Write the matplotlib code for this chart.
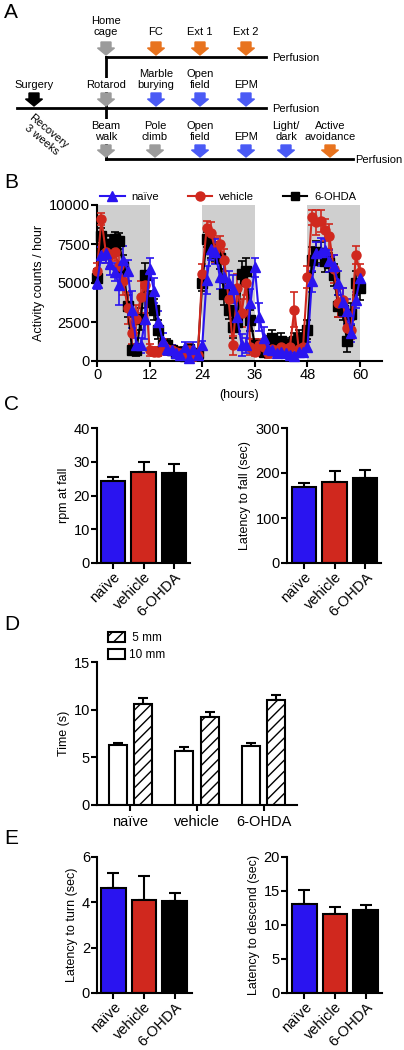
import matplotlib
matplotlib.use("Agg")

import matplotlib.pyplot as plt
import numpy as np
from matplotlib.lines import Line2D
from matplotlib.patches import Patch, Polygon

plt.rcParams["font.family"] = ["Liberation Sans", "DejaVu Sans"]
plt.rcParams["hatch.linewidth"] = 1.0

# ============================================================
# Data
# ============================================================

groups = ["naïve", "vehicle", "6-OHDA"]

# B: home cage activity, hourly means and SEM
hours = list(range(61))

naive_mean = [
    5000, 6800, 6900, 6200, 5700, 4900, 6500, 5800, 3300, 1000, 1000, 2700,
    5900, 4500, 2500, 1300, 800, 700, 500, 400, 900, 200, 800, 400,
    1000, 5200, 7200, 7000, 5400, 5400, 5000, 4600, 2800, 1000, 1000, 3700,
    6000, 2800, 1500, 800, 700, 500, 600, 500, 400, 300, 600, 600,
    900, 5100, 6900, 7000, 7100, 6400, 6100, 5000, 3800, 3200, 1800, 3900, 5300,
]
naive_sem = [
    400, 500, 600, 700, 600, 1300, 900, 700, 1200, 500, 500, 1300,
    700, 800, 700, 500, 400, 300, 300, 300, 300, 300, 400, 300,
    300, 900, 700, 800, 800, 1000, 800, 900, 900, 700, 500, 900,
    600, 900, 700, 400, 400, 300, 300, 300, 300, 300, 300, 300,
    300, 700, 700, 900, 700, 700, 700, 800, 900, 800, 600, 500, 500,
]

vehicle_mean = [
    5800, 9100, 7000, 6800, 7000, 6100, 5100, 3400, 1800, 2700, 4100, 4900,
    700, 600, 600, 1000, 800, 700, 600, 500, 400, 700, 300, 400,
    5600, 8500, 8200, 7100, 7500, 6500, 4000, 1000, 4700, 3100, 5000, 900,
    600, 1000, 900, 500, 800, 700, 900, 800, 900, 3300, 800, 900,
    5400, 9200, 8900, 9000, 8400, 8000, 5900, 3700, 3900, 2100, 2000, 6800, 5700,
]
vehicle_sem = [
    500, 400, 700, 800, 600, 700, 900, 1000, 700, 900, 1000, 900,
    400, 300, 300, 400, 400, 300, 300, 300, 300, 400, 300, 300,
    600, 500, 700, 800, 500, 700, 900, 600, 900, 900, 800, 500,
    300, 400, 400, 300, 400, 300, 400, 300, 400, 1100, 400, 400,
    700, 500, 800, 700, 700, 800, 900, 900, 800, 800, 600, 600, 500,
]

ohda_mean = [
    5300, 8000, 7500, 7500, 7800, 7700, 6000, 3500, 700, 700, 2700, 5500,
    3800, 3300, 2000, 1000, 1000, 700, 500, 600, 300, 800, 400, 500,
    5000, 7800, 7200, 7000, 6600, 4300, 3300, 2200, 2500, 5600, 5800, 2600,
    1000, 800, 600, 1200, 1500, 1000, 1300, 900, 1100, 1300, 1500, 1300,
    2000, 6500, 7000, 6900, 6400, 6300, 5500, 3500, 3300, 1300, 3000, 5000, 4700,
]
ohda_sem = [
    600, 500, 500, 600, 500, 500, 800, 700, 300, 400, 700, 800,
    700, 700, 600, 400, 400, 300, 300, 300, 300, 300, 300, 300,
    500, 500, 600, 600, 700, 700, 600, 700, 600, 800, 800, 700,
    400, 300, 300, 400, 500, 400, 500, 400, 400, 500, 500, 500,
    600, 800, 700, 700, 700, 600, 700, 700, 700, 700, 700, 800, 800,
]

dark_phases = [(0, 12), (24, 36), (48, 60)]

# C: rotarod
rpm_mean = [24.2, 27.0, 26.8]
rpm_sem = [1.2, 2.8, 2.5]
fall_mean = [168, 180, 188]
fall_sem = [10, 25, 18]

# D: beam walk
beam_10_mean = [6.3, 5.7, 6.2]
beam_10_sem = [0.2, 0.4, 0.3]
beam_5_mean = [10.6, 9.2, 11.0]
beam_5_sem = [0.6, 0.6, 0.5]

# E: pole climb
turn_mean = [4.65, 4.1, 4.05]
turn_sem = [0.65, 1.05, 0.35]
descend_mean = [13.1, 11.6, 12.2]
descend_sem = [2.1, 1.0, 0.7]

# ============================================================
# Style
# ============================================================

W, H = 404, 1050
BLUE = "#2a14f0"
RED = "#d0281e"
BLACK = "#000000"
ORANGE = "#e8731e"
ARROW_BLUE = "#4a5af5"
GREY = "#9b9b9b"
group_colors = [BLUE, RED, BLACK]


def px_axes(fig, left, right, top, bottom):
    return fig.add_axes([left / W, 1 - bottom / H, (right - left) / W, (bottom - top) / H])


def style_axes(ax):
    for side in ["top", "right"]:
        ax.spines[side].set_visible(False)
    for side in ["left", "bottom"]:
        ax.spines[side].set_linewidth(1.5)
    ax.tick_params(width=1.5, length=4, labelsize=10.5, pad=1)


def bar_panel(ax, means, sems, ylim, yticks, ylabel, xlim):
    x = np.arange(len(groups))
    ax.bar(x, means, width=0.8, color=group_colors, edgecolor="black", linewidth=1.5, zorder=2)
    ax.errorbar(x, means, yerr=[[0] * len(sems), sems], fmt="none", ecolor="black",
                elinewidth=1.5, capsize=4, capthick=1.5, zorder=1)
    ax.set_xlim(*xlim)
    ax.set_ylim(*ylim)
    ax.set_yticks(yticks)
    ax.set_xticks(x)
    ax.set_xticklabels(groups, rotation=45, ha="right", rotation_mode="anchor", fontsize=11)
    ax.set_ylabel(ylabel, fontsize=9, labelpad=3)
    style_axes(ax)


def down_arrow(ax, x, y_top, y_tip, color):
    y_mid = y_tip - 7
    pts = [(x - 5, y_top), (x + 5, y_top), (x + 5, y_mid), (x + 8.5, y_mid),
           (x, y_tip), (x - 8.5, y_mid), (x - 5, y_mid)]
    ax.add_patch(Polygon(pts, closed=True, color=color, zorder=3))


fig = plt.figure(figsize=(W / 100, H / 100), dpi=100)

# overlay axes in pixel coordinates for panel A and panel letters
ax0 = fig.add_axes([0, 0, 1, 1])
ax0.set_xlim(0, W)
ax0.set_ylim(H, 0)
ax0.axis("off")

for letter, (lx, ly) in zip("ABCDE", [(4, 13), (4, 182), (4, 405), (4, 624), (4, 838)]):
    ax0.text(lx, ly, letter, fontsize=15, va="center", ha="left")

# ============================================================
# A: timeline schematic
# ============================================================

lw = 2.0
ax0.plot([106, 266], [57, 57], color="black", lw=lw, zorder=1)
ax0.plot([17, 266], [108, 108], color="black", lw=lw, zorder=1)
ax0.plot([106, 353], [159, 159], color="black", lw=lw, zorder=1)
ax0.plot([106, 106], [57, 159], color="black", lw=lw, zorder=1)

fs_a = 8
for yy in [57, 108]:
    ax0.text(272, yy + 1, "Perfusion", fontsize=fs_a, va="center", ha="left")
ax0.text(355, 160, "Perfusion", fontsize=fs_a, va="center", ha="left")

top_row = [("Home\ncage", 106, GREY), ("FC", 156, ORANGE), ("Ext 1", 200, ORANGE), ("Ext 2", 246, ORANGE)]
mid_row = [("Surgery", 34, BLACK), ("Rotarod", 106, GREY), ("Marble\nburying", 156, ARROW_BLUE),
           ("Open\nfield", 200, ARROW_BLUE), ("EPM", 246, ARROW_BLUE)]
bot_row = [("Beam\nwalk", 106, GREY), ("Pole\nclimb", 155, GREY), ("Open\nfield", 200, ARROW_BLUE),
           ("EPM", 246, ARROW_BLUE), ("Light/\ndark", 286, ARROW_BLUE), ("Active\navoidance", 330, ORANGE)]

for row, (y_top, y_tip, y_text) in zip([top_row, mid_row, bot_row], [(42, 55, 37), (93, 106, 90), (145, 157, 142)]):
    for label, x, color in row:
        down_arrow(ax0, x, y_top, y_tip, color)
        ax0.text(x, y_text, label, fontsize=fs_a, ha="center", va="bottom", linespacing=1.1,
                 zorder=4, bbox=dict(facecolor="white", edgecolor="none", pad=1.5))

ax0.text(45, 136, "Recovery\n3 weeks", fontsize=fs_a, ha="center", va="center",
         rotation=-40, linespacing=1.1)

# ============================================================
# B: home cage activity
# ============================================================

axB = px_axes(fig, 97, 382, 205, 361)
for start, end in dark_phases:
    axB.axvspan(start, end, color="#cfcfcf", lw=0, zorder=0)

series = [
    (ohda_mean, ohda_sem, BLACK, "s", 6.5, "6-OHDA"),
    (vehicle_mean, vehicle_sem, RED, "o", 6.5, "vehicle"),
    (naive_mean, naive_sem, BLUE, "^", 6.5, "naïve"),
]
for mean, sem, color, marker, ms, name in series:
    axB.errorbar(hours, mean, yerr=sem, color=color, marker=marker, ms=ms, lw=1.5,
                 elinewidth=1.2, capsize=3, capthick=1.2, clip_on=False, zorder=3)

axB.set_xlim(0, 65)
axB.set_ylim(0, 10000)
axB.set_xticks([0, 12, 24, 36, 48, 60])
axB.set_yticks([0, 2500, 5000, 7500, 10000])
axB.set_ylabel("Activity counts / hour", fontsize=9, labelpad=3)
axB.set_xlabel("(hours)", fontsize=9, labelpad=5)
style_axes(axB)

legend_handles = [
    Line2D([], [], color=BLUE, marker="^", ms=6.5, lw=1.5, label="naïve"),
    Line2D([], [], color=RED, marker="o", ms=6.5, lw=1.5, label="vehicle"),
    Line2D([], [], color=BLACK, marker="s", ms=6, lw=1.5, label="6-OHDA"),
]
axB.legend(handles=legend_handles, loc="lower center", bbox_to_anchor=(0.46, 0.99), ncol=3,
           frameon=False, fontsize=8, handlelength=2.2, columnspacing=2.6, handletextpad=0.6,
           borderaxespad=0)

# ============================================================
# C: rotarod
# ============================================================

axC1 = px_axes(fig, 97, 190, 428, 563)
bar_panel(axC1, rpm_mean, rpm_sem, (0, 40), [0, 10, 20, 30, 40], "rpm at fall", (-0.52, 2.52))

axC2 = px_axes(fig, 287, 381, 428, 563)
bar_panel(axC2, fall_mean, fall_sem, (0, 300), [0, 100, 200, 300], "Latency to fall (sec)", (-0.56, 2.52))

# ============================================================
# D: beam walk
# ============================================================

axD = px_axes(fig, 97, 297, 662, 805)
xg = np.arange(len(groups))
axD.bar(xg - 0.19, beam_10_mean, width=0.27, color="white", edgecolor="black", linewidth=1.5, zorder=2)
axD.bar(xg + 0.19, beam_5_mean, width=0.27, color="white", edgecolor="black", linewidth=1.5,
        hatch="///", zorder=2)
axD.errorbar(xg - 0.19, beam_10_mean, yerr=[[0] * 3, beam_10_sem], fmt="none", ecolor="black",
             elinewidth=1.5, capsize=3.5, capthick=1.5, zorder=1)
axD.errorbar(xg + 0.19, beam_5_mean, yerr=[[0] * 3, beam_5_sem], fmt="none", ecolor="black",
             elinewidth=1.5, capsize=3.5, capthick=1.5, zorder=1)
axD.set_xlim(-0.5, 2.5)
axD.set_ylim(0, 15)
axD.set_yticks([0, 5, 10, 15])
axD.set_xticks(xg)
axD.set_xticklabels(groups)
axD.set_ylabel("Time (s)", fontsize=9, labelpad=3)
style_axes(axD)
axD.tick_params(axis="x", pad=3)

d_handles = [
    Patch(facecolor="white", edgecolor="black", hatch="///", linewidth=1.5, label=" 5 mm"),
    Patch(facecolor="white", edgecolor="black", linewidth=1.5, label="10 mm"),
]
axD.legend(handles=d_handles, loc="upper left", bbox_to_anchor=(108 / W, 1 - 632 / H),
           bbox_transform=fig.transFigure, frameon=False, fontsize=8.5, handlelength=1.4,
           handleheight=0.9, handletextpad=0.4, labelspacing=0.45, borderaxespad=0, borderpad=0)

# ============================================================
# E: pole climb
# ============================================================

axE1 = px_axes(fig, 97, 192, 857, 993)
bar_panel(axE1, turn_mean, turn_sem, (0, 6), [0, 2, 4, 6], "Latency to turn (sec)", (-0.54, 2.57))

axE2 = px_axes(fig, 287, 382, 857, 993)
bar_panel(axE2, descend_mean, descend_sem, (0, 20), [0, 5, 10, 15, 20], "Latency to descend (sec)",
          (-0.57, 2.54))

fig.savefig("out.png", dpi=100)
